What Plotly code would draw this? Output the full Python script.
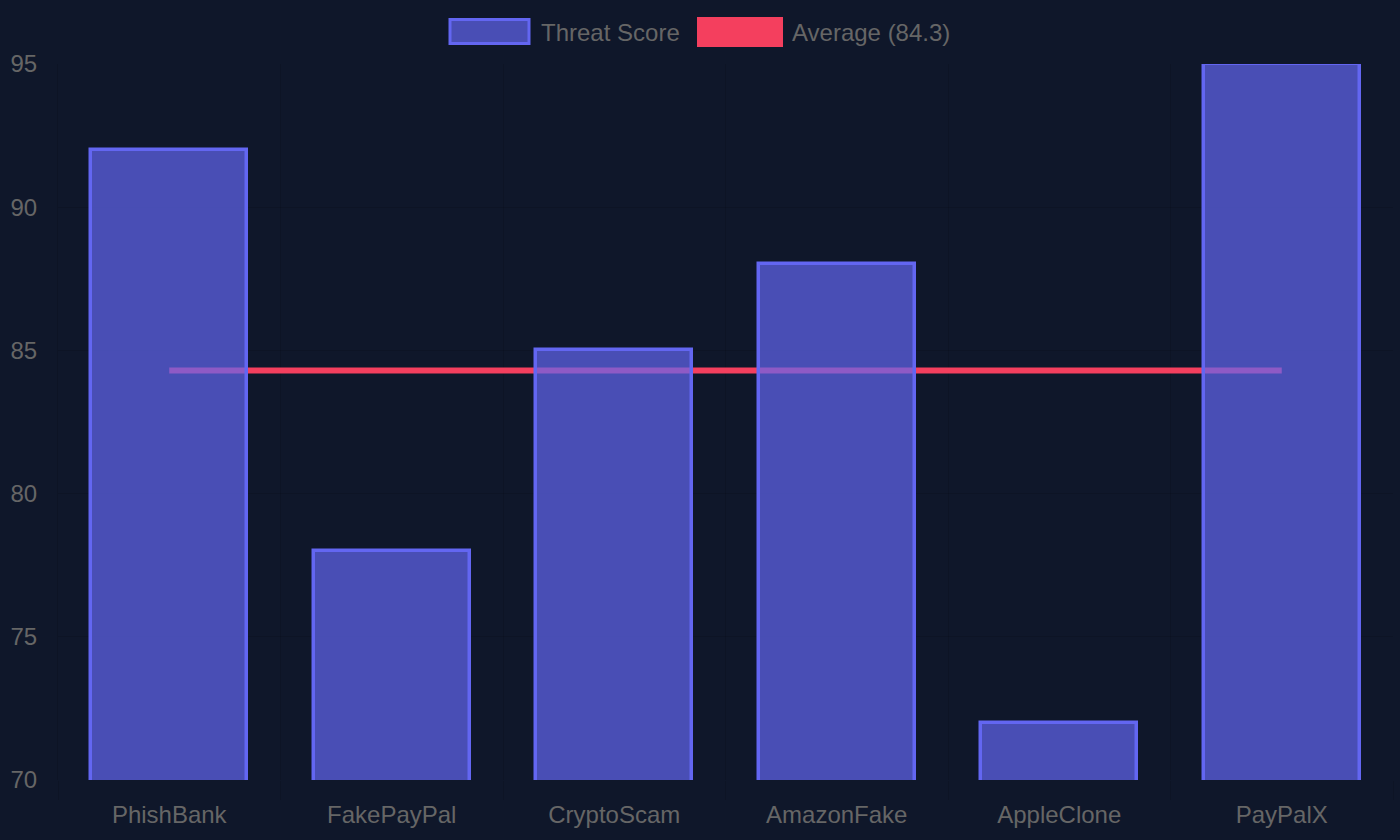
import plotly.graph_objects as go

categories = ["PhishBank", "FakePayPal", "CryptoScam", "AmazonFake", "AppleClone", "PayPalX"]
threat_scores = [92, 78, 85, 88, 72, 95]
average_value = 84.3
y_ticks = [70, 75, 80, 85, 90, 95]
series_names = ["Threat Score", f"Average ({average_value})"]

W, H = 1400, 840
ML, MR, MT, MB = 58, 7, 64, 60
PW, PH = W - ML - MR, H - MT - MB

def px(x):
    return (x - ML) / PW

def py(y):
    return (H - MB - y) / PH

BG = "#0f172a"
TXT = "#666666"
GRID = "rgba(0,0,0,0.1)"
FONT = "Liberation Sans, Arial, sans-serif"

fig = go.Figure()

# average line (drawn beneath the bars)
fig.add_trace(go.Scatter(
    x=categories, y=[average_value] * len(categories),
    mode="lines", line=dict(color="#f43f5e", width=6),
    name=series_names[1], showlegend=False, hoverinfo="skip",
    xaxis="x", yaxis="y",
))

# bars on overlaying axes so they sit above the line
fig.add_trace(go.Bar(
    x=categories, y=threat_scores, width=0.70,
    marker=dict(color="rgba(99,102,241,0.7)", line=dict(color="#6366f1", width=3.5)),
    name=series_names[0], showlegend=False,
    xaxis="x2", yaxis="y2",
))

shapes = [
    dict(type="rect", xref="paper", yref="paper",
         x0=px(450), x1=px(529), y0=py(19.5), y1=py(43.5),
         fillcolor="rgba(99,102,241,0.7)", line=dict(color="#6366f1", width=3)),
    dict(type="rect", xref="paper", yref="paper",
         x0=px(697), x1=px(783), y0=py(17), y1=py(47),
         fillcolor="#f43f5e", line=dict(width=0)),
]
annotations = [
    dict(text=series_names[0], xref="paper", yref="paper", x=px(539), y=py(32),
         xanchor="left", yanchor="middle", showarrow=False,
         font=dict(size=24, color=TXT, family=FONT)),
    dict(text=series_names[1], xref="paper", yref="paper", x=px(790), y=py(32),
         xanchor="left", yanchor="middle", showarrow=False,
         font=dict(size=24, color=TXT, family=FONT)),
]

fig.update_layout(
    width=W, height=H,
    margin=dict(l=ML, r=MR, t=MT, b=MB, pad=0),
    paper_bgcolor=BG, plot_bgcolor=BG,
    font=dict(family=FONT, size=24, color=TXT),
    showlegend=False,
    bargap=0,
    shapes=shapes, annotations=annotations,
    xaxis=dict(
        type="category", categoryorder="array", categoryarray=categories,
        range=[-0.5, len(categories) - 0.5],
        tickson="boundaries", showgrid=True, gridcolor=GRID, gridwidth=1,
        ticks="outside", ticklen=19, tickcolor=GRID, tickwidth=1,
        showline=False, zeroline=False,
        tickfont=dict(size=24, color=TXT, family=FONT),
        ticklabelstandoff=18,
    ),
    yaxis=dict(
        range=[70, 95], tickvals=y_ticks, ticktext=[str(v) for v in y_ticks],
        showgrid=True, gridcolor=GRID, gridwidth=1,
        ticks="", showline=True, linecolor=GRID, linewidth=1,
        zeroline=False,
        tickfont=dict(size=24, color=TXT, family=FONT),
        ticklabelstandoff=15,
    ),
    xaxis2=dict(
        type="category", categoryorder="array", categoryarray=categories,
        range=[-0.5, len(categories) - 0.5], overlaying="x", visible=False,
    ),
    yaxis2=dict(range=[70, 95], overlaying="y", visible=False),
)

fig.write_html(
    "out.html",
    config={"displayModeBar": False},
    post_script="document.body.style.margin='0';document.body.style.background='#0f172a';",
)
